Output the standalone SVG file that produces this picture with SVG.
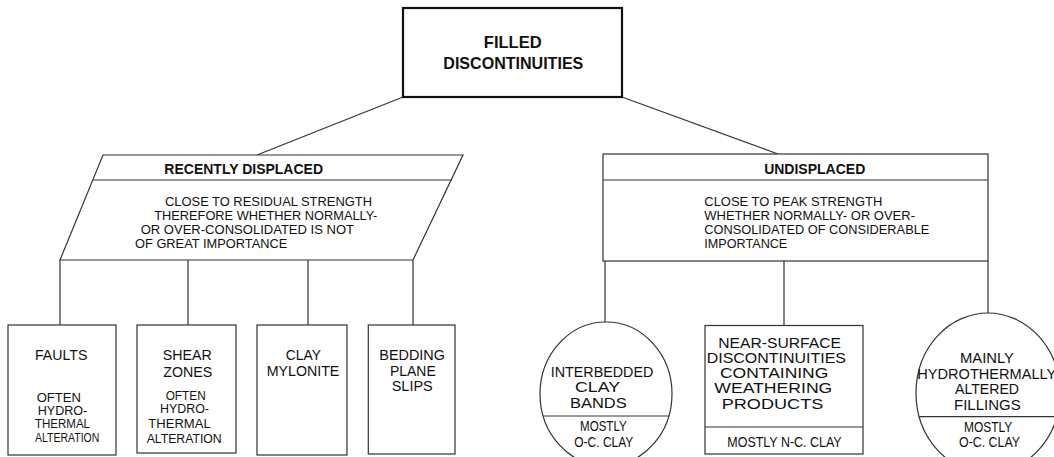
<svg xmlns="http://www.w3.org/2000/svg" width="1054" height="457" viewBox="0 0 1054 457">
<style>
.s{fill:#fff;stroke:#333;stroke-width:1.2}
.l{fill:none;stroke:#333;stroke-width:1.2}
.t{font-family:"Liberation Sans",Arial,sans-serif;font-size:14.5px;fill:#111}
.c{font-family:"Liberation Sans",Arial,sans-serif;font-size:12.5px;fill:#111}
.n{font-family:"Liberation Sans",Arial,sans-serif;font-size:15px;fill:#111}
.p{font-family:"Liberation Sans",Arial,sans-serif;font-size:12.8px;fill:#111}
.b{font-family:"Liberation Sans",Arial,sans-serif;font-weight:bold;fill:#111}
</style>
<rect width="1054" height="457" fill="#fff"/>
<g id="connectors">
<line class="l" x1="403" y1="97" x2="257" y2="155"/>
<line class="l" x1="622" y1="97" x2="778" y2="154"/>
<line class="l" x1="60" y1="260" x2="60" y2="325"/>
<line class="l" x1="188" y1="260" x2="188" y2="325"/>
<line class="l" x1="308" y1="260" x2="308" y2="325"/>
<line class="l" x1="413" y1="260" x2="413" y2="325"/>
<line class="l" x1="605" y1="261" x2="605" y2="322"/>
<line class="l" x1="784" y1="261" x2="784" y2="325"/>
<line class="l" x1="988" y1="261" x2="988" y2="313"/>
</g>
<g id="filled">
<rect x="403" y="8" width="219" height="89" fill="#fff" stroke="#111" stroke-width="2.2"/>
<text class="b" font-size="16.5" x="512.7" y="48.3" text-anchor="middle">FILLED</text>
<text class="b" font-size="16" x="513.3" y="69" text-anchor="middle" textLength="140" lengthAdjust="spacingAndGlyphs">DISCONTINUITIES</text>
</g>
<g id="recently-displaced">
<polygon class="s" points="103,155 463,155 413,260 60,260"/>
<line class="l" x1="93.2" y1="180" x2="451.1" y2="180"/>
<text class="b" font-size="14" x="243.7" y="174" text-anchor="middle">RECENTLY DISPLACED</text>
<text class="p" x="165" y="206" textLength="207" lengthAdjust="spacingAndGlyphs">CLOSE TO RESIDUAL STRENGTH</text>
<text class="p" x="154.3" y="220" textLength="223" lengthAdjust="spacingAndGlyphs">THEREFORE WHETHER NORMALLY-</text>
<text class="p" x="140.7" y="234" textLength="213.3" lengthAdjust="spacingAndGlyphs">OR OVER-CONSOLIDATED IS NOT</text>
<text class="p" x="135" y="248" textLength="152.3" lengthAdjust="spacingAndGlyphs">OF GREAT IMPORTANCE</text>
</g>
<g id="undisplaced">
<rect class="s" x="603" y="154" width="385" height="107"/>
<line class="l" x1="603" y1="180" x2="988" y2="180"/>
<text class="b" font-size="14" x="814.7" y="174.3" text-anchor="middle">UNDISPLACED</text>
<text class="p" x="704.3" y="206" textLength="178" lengthAdjust="spacingAndGlyphs">CLOSE TO PEAK STRENGTH</text>
<text class="p" x="704.3" y="220" textLength="210.7" lengthAdjust="spacingAndGlyphs">WHETHER NORMALLY- OR OVER-</text>
<text class="p" x="704.3" y="234" textLength="225" lengthAdjust="spacingAndGlyphs">CONSOLIDATED OF CONSIDERABLE</text>
<text class="p" x="704.3" y="248" textLength="83" lengthAdjust="spacingAndGlyphs">IMPORTANCE</text>
</g>
<g id="faults">
<rect class="s" x="8" y="325" width="108" height="130"/>
<text class="t" x="35" y="360" textLength="52.3" lengthAdjust="spacingAndGlyphs">FAULTS</text>
<text class="c" x="36.7" y="401.7" textLength="44.3" lengthAdjust="spacingAndGlyphs">OFTEN</text>
<text class="c" x="37.7" y="415" textLength="49.6" lengthAdjust="spacingAndGlyphs">HYDRO-</text>
<text class="c" x="35" y="428.3" textLength="55" lengthAdjust="spacingAndGlyphs">THERMAL</text>
<text class="c" x="35" y="441.7" textLength="64.3" lengthAdjust="spacingAndGlyphs">ALTERATION</text>
</g>
<g id="shear-zones">
<rect class="s" x="137" y="325" width="99" height="128"/>
<text class="t" x="162.7" y="360" textLength="49" lengthAdjust="spacingAndGlyphs">SHEAR</text>
<text class="t" x="163.3" y="376.7" textLength="49" lengthAdjust="spacingAndGlyphs">ZONES</text>
<text class="c" x="165.7" y="400" textLength="40" lengthAdjust="spacingAndGlyphs">OFTEN</text>
<text class="c" x="160" y="413.3" textLength="49" lengthAdjust="spacingAndGlyphs">HYDRO-</text>
<text class="c" x="148.3" y="428.3" textLength="62.4" lengthAdjust="spacingAndGlyphs">THERMAL</text>
<text class="c" x="146.7" y="443.3" textLength="75" lengthAdjust="spacingAndGlyphs">ALTERATION</text>
</g>
<g id="clay-mylonite">
<rect class="s" x="257" y="325" width="90" height="130"/>
<text class="t" x="285.7" y="360" textLength="35.3" lengthAdjust="spacingAndGlyphs">CLAY</text>
<text class="t" x="266.7" y="375.7" textLength="72.6" lengthAdjust="spacingAndGlyphs">MYLONITE</text>
</g>
<g id="bedding-plane-slips">
<rect class="s" x="368.3" y="325" width="86.7" height="129"/>
<text class="t" x="379.3" y="360" textLength="65.7" lengthAdjust="spacingAndGlyphs">BEDDING</text>
<text class="t" x="390" y="375.7" textLength="45.7" lengthAdjust="spacingAndGlyphs">PLANE</text>
<text class="t" x="391.7" y="391" textLength="41" lengthAdjust="spacingAndGlyphs">SLIPS</text>
</g>
<g id="interbedded-clay-bands">
<ellipse class="s" cx="606" cy="394" rx="66" ry="72"/>
<line class="l" x1="543.2" y1="416" x2="668.8" y2="416"/>
<text class="t" x="550.7" y="376.7" textLength="102.6" lengthAdjust="spacingAndGlyphs">INTERBEDDED</text>
<text class="t" x="575" y="392.3" textLength="45" lengthAdjust="spacingAndGlyphs">CLAY</text>
<text class="t" x="570" y="408.3" textLength="56.7" lengthAdjust="spacingAndGlyphs">BANDS</text>
<text class="t" x="580" y="431" textLength="46.7" lengthAdjust="spacingAndGlyphs">MOSTLY</text>
<text class="t" x="574.3" y="446.7" textLength="59" lengthAdjust="spacingAndGlyphs">O-C. CLAY</text>
</g>
<g id="near-surface">
<rect class="s" x="705" y="325.5" width="158" height="128.5"/>
<line class="l" x1="705" y1="427" x2="863" y2="427"/>
<text class="n" x="718.3" y="348.3" textLength="122.7" lengthAdjust="spacingAndGlyphs">NEAR-SURFACE</text>
<text class="n" x="706.7" y="363.3" textLength="139.3" lengthAdjust="spacingAndGlyphs">DISCONTINUITIES</text>
<text class="n" x="720" y="378.3" textLength="108.3" lengthAdjust="spacingAndGlyphs">CONTAINING</text>
<text class="n" x="714.3" y="393.3" textLength="118" lengthAdjust="spacingAndGlyphs">WEATHERING</text>
<text class="n" x="721.7" y="409" textLength="101.6" lengthAdjust="spacingAndGlyphs">PRODUCTS</text>
<text class="t" x="727.3" y="446.7" textLength="114.4" lengthAdjust="spacingAndGlyphs">MOSTLY N-C. CLAY</text>
</g>
<g id="hydrothermally-altered">
<ellipse class="s" cx="988" cy="393" rx="72" ry="80"/>
<line class="l" x1="919.2" y1="416.7" x2="1056.8" y2="416.7"/>
<text class="t" x="960" y="363.3" textLength="54" lengthAdjust="spacingAndGlyphs">MAINLY</text>
<text class="t" x="917.3" y="379" textLength="139" lengthAdjust="spacingAndGlyphs">HYDROTHERMALLY</text>
<text class="t" x="955" y="394.3" textLength="64" lengthAdjust="spacingAndGlyphs">ALTERED</text>
<text class="t" x="954" y="410" textLength="66.7" lengthAdjust="spacingAndGlyphs">FILLINGS</text>
<text class="t" x="964" y="431.7" textLength="48.3" lengthAdjust="spacingAndGlyphs">MOSTLY</text>
<text class="t" x="959" y="446.7" textLength="61" lengthAdjust="spacingAndGlyphs">O-C. CLAY</text>
</g>
</svg>
